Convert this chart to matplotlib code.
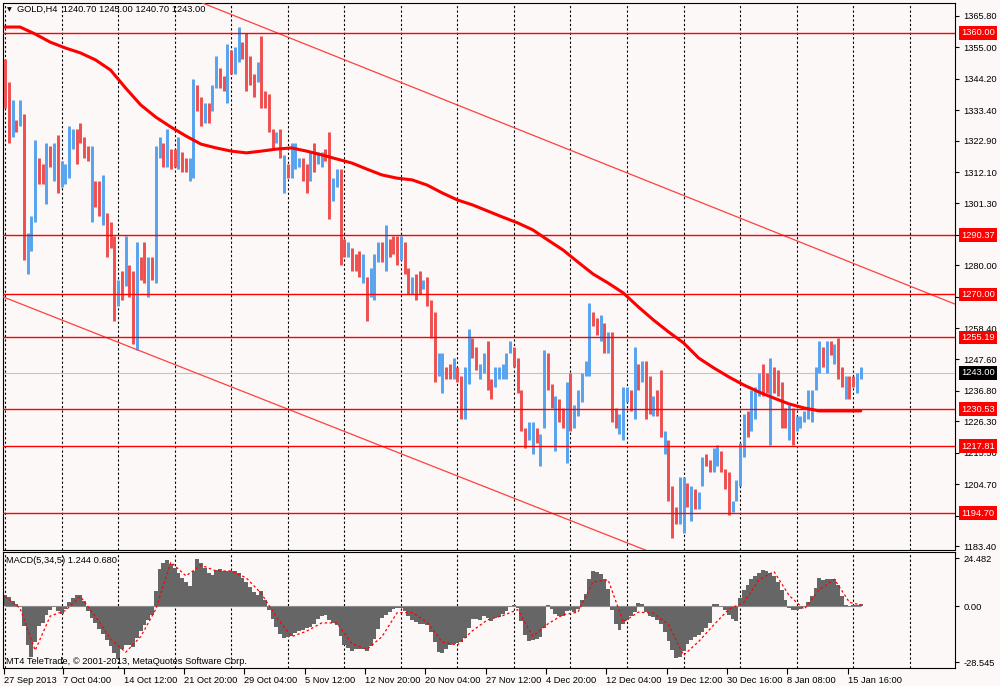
import numpy as np
import matplotlib.pyplot as plt

plt.rcParams['font.family'] = ['Liberation Sans', 'DejaVu Sans']

symbol_text = "GOLD,H4  1240.70 1245.00 1240.70 1243.00"
macd_text = "MACD(5,34,5) 1.244 0.680"
copyright_text = "MT4 TeleTrade, \u00a9 2001-2013, MetaQuotes Software Corp."

# one entry = two H4 bars (high / low / up-bar flag)
highs = [1351, 1343, 1337, 1330, 1337, 1332, 1291, 1297, 1323, 1317,
         1315, 1322, 1321, 1322, 1325, 1316, 1315, 1328, 1327, 1327,
         1329, 1324, 1321, 1321, 1309, 1309, 1311, 1298, 1295, 1290,
         1275, 1278, 1290, 1280, 1278, 1288, 1283, 1288, 1283, 1283,
         1321, 1324, 1322, 1327, 1320, 1320, 1324, 1319, 1317, 1317,
         1344, 1342, 1338, 1336, 1336, 1342, 1352, 1348, 1345, 1356,
         1354, 1355, 1362, 1357, 1360, 1352, 1346, 1350, 1359, 1340,
         1339, 1327, 1326, 1327, 1318, 1315, 1322, 1322, 1317, 1317,
         1315, 1319, 1322, 1319, 1319, 1320, 1326, 1310, 1313, 1313,
         1289, 1288, 1286, 1284, 1285, 1284, 1276, 1279, 1284, 1288,
         1288, 1294, 1289, 1290, 1290, 1290, 1288, 1279, 1276, 1277,
         1278, 1275, 1276, 1268, 1264, 1250, 1250, 1245, 1246, 1248,
         1245, 1242, 1245, 1258, 1255, 1252, 1246, 1250, 1254, 1241,
         1245, 1245, 1246, 1250, 1254, 1252, 1248, 1237, 1224, 1226,
         1226, 1224, 1222, 1251, 1250, 1239, 1235, 1234, 1231, 1240,
         1243, 1232, 1237, 1243, 1247, 1267, 1264, 1262, 1263, 1260,
         1257, 1257, 1231, 1229, 1238, 1238, 1237, 1252, 1246, 1247,
         1247, 1242, 1235, 1237, 1244, 1223, 1220, 1204, 1197, 1207,
         1207, 1205, 1204, 1203, 1202, 1214, 1215, 1213, 1217, 1218,
         1216, 1210, 1209, 1199, 1206, 1219, 1229, 1230, 1237, 1238,
         1243, 1246, 1243, 1248, 1245, 1244, 1240, 1231, 1232, 1231,
         1228, 1228, 1230, 1237, 1237, 1245, 1254, 1252, 1254, 1254,
         1253, 1255, 1245, 1242, 1242, 1242, 1243, 1245]
lows = [1334, 1322, 1324, 1326, 1328, 1282, 1277, 1285, 1295, 1308,
        1308, 1301, 1314, 1309, 1305, 1307, 1308, 1310, 1320, 1315,
        1322, 1317, 1316, 1295, 1300, 1297, 1294, 1283, 1286, 1261,
        1266, 1268, 1273, 1269, 1253, 1251, 1275, 1274, 1269, 1275,
        1274, 1317, 1314, 1314, 1313, 1314, 1313, 1312, 1312, 1309,
        1310, 1333, 1328, 1329, 1329, 1333, 1341, 1341, 1340, 1336,
        1346, 1346, 1350, 1351, 1340, 1342, 1338, 1343, 1334, 1334,
        1326, 1320, 1322, 1317, 1305, 1310, 1310, 1313, 1314, 1309,
        1305, 1309, 1312, 1315, 1314, 1316, 1296, 1302, 1307, 1280,
        1283, 1283, 1278, 1278, 1276, 1274, 1261, 1269, 1268, 1281,
        1281, 1278, 1283, 1284, 1280, 1282, 1277, 1270, 1270, 1268,
        1270, 1272, 1266, 1255, 1240, 1242, 1236, 1241, 1241, 1241,
        1240, 1227, 1227, 1239, 1248, 1244, 1241, 1243, 1237, 1234,
        1238, 1241, 1241, 1241, 1250, 1245, 1236, 1223, 1217, 1220,
        1215, 1219, 1211, 1224, 1237, 1231, 1216, 1226, 1224, 1212,
        1223, 1224, 1228, 1233, 1242, 1242, 1259, 1256, 1254, 1250,
        1250, 1226, 1224, 1222, 1220, 1233, 1230, 1227, 1237, 1240,
        1227, 1229, 1228, 1228, 1221, 1215, 1199, 1186, 1191, 1191,
        1188, 1197, 1192, 1196, 1196, 1204, 1211, 1209, 1209, 1211,
        1209, 1203, 1194, 1195, 1199, 1204, 1214, 1221, 1223, 1227,
        1235, 1235, 1236, 1218, 1236, 1235, 1224, 1224, 1220, 1218,
        1223, 1224, 1226, 1227, 1226, 1237, 1243, 1245, 1243, 1249,
        1246, 1241, 1238, 1234, 1234, 1238, 1236, 1241]
bull = [0, 0, 1, 0, 1, 0, 1, 1, 1, 0,
        0, 1, 0, 1, 0, 1, 1, 1, 1, 0,
        0, 0, 0, 1, 0, 0, 1, 0, 0, 0,
        1, 0, 1, 0, 0, 1, 0, 0, 1, 0,
        1, 1, 0, 1, 0, 0, 1, 0, 0, 1,
        1, 0, 0, 1, 0, 1, 1, 0, 0, 1,
        0, 1, 1, 0, 0, 0, 0, 1, 0, 0,
        0, 0, 1, 0, 1, 0, 1, 1, 1, 0,
        0, 1, 0, 1, 1, 0, 0, 1, 1, 0,
        0, 1, 0, 0, 0, 1, 0, 1, 1, 1,
        0, 1, 0, 0, 0, 1, 0, 0, 1, 0,
        0, 1, 0, 0, 0, 1, 1, 0, 0, 1,
        0, 0, 1, 1, 0, 0, 1, 1, 0, 0,
        1, 1, 1, 1, 1, 0, 0, 0, 0, 1,
        1, 0, 1, 1, 0, 0, 1, 0, 0, 1,
        0, 1, 1, 1, 1, 1, 0, 0, 1, 0,
        1, 0, 0, 1, 1, 1, 0, 1, 0, 1,
        0, 0, 1, 0, 0, 1, 0, 0, 0, 1,
        1, 0, 1, 0, 1, 1, 0, 0, 1, 1,
        0, 0, 0, 1, 1, 1, 1, 0, 1, 1,
        1, 0, 0, 1, 0, 0, 0, 0, 1, 0,
        1, 1, 1, 1, 1, 1, 1, 0, 1, 0,
        1, 0, 0, 1, 0, 0, 1, 1]

# moving average, read every 4th entry plus the last one
ma_values = [1362.0, 1362.0, 1359.6, 1356.8, 1354.8, 1353.1, 1350.7, 1347.2, 1341.0, 1335.2,
             1331.0, 1327.6, 1324.5, 1321.7, 1320.4, 1319.3, 1318.7, 1319.3, 1320.0, 1320.4,
             1319.3, 1318.0, 1316.6, 1315.2, 1313.1, 1311.1, 1310.0, 1309.4, 1307.6, 1304.9,
             1302.5, 1300.8, 1298.7, 1296.6, 1294.6, 1292.2, 1288.7, 1285.3, 1281.1, 1277.0,
             1273.9, 1270.5, 1265.7, 1261.2, 1257.1, 1253.3, 1248.1, 1244.7, 1241.6, 1238.8,
             1236.4, 1234.3, 1232.3, 1230.9, 1229.9, 1229.9, 1229.9, 1229.9]

macd_main = [5.5, 4.5, 2.5, 1.0, 0.3, -10, -20, -26, -18, -10,
             -8.5, -4.5, -2, -0.5, -2.5, -4, -1.5, 2, 4, 5.5,
             5.5, 2.5, -2.5, -6, -8.5, -11.5, -14, -17, -20.5, -24,
             -27, -22, -20, -19.6, -21, -16, -12.5, -9.5, -7, -4.5,
             8, 19, 22, 23.8, 21.5, 19.5, 17, 14.5, 12.5, 10.5,
             18, 24, 22, 19.5, 17, 16.2, 18.5, 19, 17.9, 18,
             18.2, 18, 17, 14.5, 12.5, 10, 7.5, 5.5, 8, 3,
             -2, -6.5, -10.5, -14, -16.2, -15.8, -15, -13.5, -12.5, -11.9,
             -11, -10.5, -9, -6.5, -5, -4.3, -7, -8.5, -9.4, -15,
             -20, -21.5, -22.6, -22, -21.6, -22, -22.6, -20.5, -16.5, -11.5,
             -6, -4.3, -3, -1.3, -0.9, -0.9, -2.5, -5, -6.8, -8.2,
             -8.8, -9.2, -9.5, -13, -18, -23.2, -23.8, -22, -19.6, -19.2,
             -18.7, -18.2, -16, -11, -6.5, -6.3, -6.8, -5, -6, -7.5,
             -6, -5.3, -4, -2.2, -0.5, 0.5, -1, -7.5, -14.8, -17.9,
             -17.3, -16.5, -15.6, -11, 0.5, -1.2, -3.8, -5, -5, -2.5,
             -2, -2.8, -1.2, 3, 6.5, 14, 17.9, 17.5, 16.3, 14,
             9, -2, -9, -12, -9.3, -7, -5, -3, 1.5, 1,
             -3, -4.8, -5.4, -7, -9, -13, -17.5, -22.5, -26.5, -26,
             -23, -19.3, -17.2, -15.8, -14.5, -13.2, -11, -8.5, 1, 1.2,
             0, -2, -4.6, -6.5, -7.5, 4, 8.5, 10.7, 13.8, 15.3,
             16.8, 18.4, 17.9, 17.2, 15.5, 12.5, 8.5, 3, -0.8, -2,
             -1.8, -1.5, -0.5, 2, 5, 9.5, 14.5, 13.5, 14.1, 14.1,
             14, 10.7, 5, 0.5, 0.2, 0.5, 0.8, 1.2]
macd_signal = [5, -1, -22.5, -5, -2.2, 5, -5.3, -16.5, -23.5, -15.5,
               -1.5, 22.5, 15.5, 21, 18, 18, 14.5, 6.5, -5.5, -15.5,
               -12.7, -8.5, -8.5, -19, -22, -15.5, -3.3, -3.2, -8.2, -18.3,
               -19.8, -12.5, -6.9, -4.8, -1.7, -15.3, -9, -4.3, -3, 12.5,
               13.5, -8, -3, -3.5, -9.5, -25, -18, -9.5, -1.5, 2,
               13.5, 17.7, 5.5, -1.5, 8.5, 13.8, 2, 0.7]

levels = [1360.00, 1290.37, 1270.00, 1255.19, 1230.53, 1217.81, 1194.70]
bid_price = 1243.00
channel_upper_k = [45, 255]
channel_upper_p = [1374.1, 1265.1]
channel_lower_k = [-2, 175]
channel_lower_p = [1269.9, 1179.4]

price_ticks = [1365.80, 1355.00, 1344.20, 1333.40, 1322.90, 1312.10, 1301.30,
               1280.00, 1258.40, 1247.60, 1236.80, 1226.30, 1215.50, 1204.70, 1183.40]
hidden_price_ticks = [1290.50, 1269.20, 1193.90]
macd_ticks = [24.482, 0.0, -28.545]
macd_tick_labels = ["24.482", "0.00", "-28.545"]
date_labels = ["27 Sep 2013", "7 Oct 04:00", "14 Oct 12:00", "21 Oct 20:00", "29 Oct 04:00",
               "5 Nov 12:00", "12 Nov 20:00", "20 Nov 04:00", "27 Nov 12:00", "4 Dec 20:00",
               "12 Dec 04:00", "19 Dec 12:00", "30 Dec 16:00", "8 Jan 08:00", "15 Jan 16:00"]

bg = '#fcf8f7'
up_color = '#55a3f0'
down_color = '#f04e4e'
fs = 6.7

fig = plt.figure(figsize=(10, 6.86), dpi=100, facecolor=bg)
ax = fig.add_axes([0.003, 0.19825, 0.952, 0.79738], facecolor=bg)
ax2 = fig.add_axes([0.003, 0.02624, 0.952, 0.16910], facecolor=bg, sharex=ax)

idx = np.arange(len(highs))
n = len(highs)

# grid
for g in np.arange(0, 252, 15):
    for a in (ax, ax2):
        a.axvline(g, color='black', lw=0.8, ls=(0, (2, 2)), zorder=1)

# price bars
bar_colors = [up_color if b else down_color for b in bull]
ax.vlines(idx, lows, highs, colors=bar_colors, linewidth=2.1, zorder=3)

# moving average
ma_idx = np.append(np.arange(0, n - 3, 4), n - 1)
ax.plot(ma_idx, ma_values, color='#ff0000', lw=2.2, zorder=5, solid_capstyle='round')

# channel
ax.plot(channel_upper_k, channel_upper_p, color='#ff4040', lw=0.9, zorder=4)
ax.plot(channel_lower_k, channel_lower_p, color='#ff4040', lw=0.9, zorder=4)

# bid line
ax.axhline(bid_price, color='#c4c4c4', lw=0.8, zorder=2)
ax.text(1.0065, bid_price, f"{bid_price:.2f}", transform=ax.get_yaxis_transform(),
        ha='left', va='center', color='white', fontsize=fs, clip_on=False, zorder=7,
        bbox=dict(boxstyle='square,pad=0.25', fc='black', ec='none'))

# horizontal levels
for lv in levels:
    ax.axhline(lv, color='#ff0000', lw=1.0, zorder=4)
    ax.text(1.0065, lv, f"{lv:.2f}", transform=ax.get_yaxis_transform(),
            ha='left', va='center', color='white', fontsize=fs, clip_on=False, zorder=7,
            bbox=dict(boxstyle='square,pad=0.25', fc='#ff0000', ec='none'))

ax.set_xlim(-0.53, 252.0)
ax.set_ylim(1182.04, 1370.27)
ax.yaxis.tick_right()
ax.set_yticks(price_ticks)
ax.set_yticklabels([f"{p:.2f}" for p in price_ticks])
ax.set_yticks(hidden_price_ticks, minor=True)
ax.tick_params(axis='y', which='both', length=3, width=0.8, pad=3, labelsize=fs, direction='out')
ax.tick_params(axis='x', which='both', bottom=False, labelbottom=False)

ax.text(0.004, 0.988, '\u25bc', transform=ax.transAxes, fontsize=4.5,
        family='DejaVu Sans', va='center', ha='left')
ax.text(0.0147, 0.988, symbol_text, transform=ax.transAxes, fontsize=fs,
        va='center', ha='left')

# MACD panel
ax2.bar(idx, macd_main, width=1.05, color='#666666', linewidth=0, zorder=2)
ax2.hlines(0, idx[0], idx[-1], color='#8a8a8a', lw=0.8, zorder=2)
sig_idx = np.append(np.arange(0, n - 3, 4), n - 1)
ax2.plot(sig_idx, macd_signal, color='#ff0000', lw=0.9, ls=(0, (2, 2)), zorder=3)
ax2.set_ylim(-31.5, 27.7)
ax2.yaxis.tick_right()
ax2.set_yticks(macd_ticks)
ax2.set_yticklabels(macd_tick_labels)
ax2.tick_params(axis='y', length=3, width=0.8, pad=3, labelsize=fs, direction='out')

label_pos = [-0.3] + [15.5 + 16 * i for i in range(len(date_labels) - 1)]
ax2.set_xticks(label_pos)
ax2.set_xticklabels(date_labels)
ax2.tick_params(axis='x', length=4, width=0.8, pad=2, labelsize=fs, direction='out')
for t in ax2.get_xticklabels():
    t.set_ha('left')

ax2.text(0.003, 0.93, macd_text, transform=ax2.transAxes, fontsize=fs, va='center', ha='left')
ax2.text(0.003, 0.06, copyright_text, transform=ax2.transAxes, fontsize=fs,
         va='center', ha='left')

for a in (ax, ax2):
    for s in a.spines.values():
        s.set_color('black')
        s.set_linewidth(0.8)

fig.savefig('out.png', dpi=100, facecolor=bg)
